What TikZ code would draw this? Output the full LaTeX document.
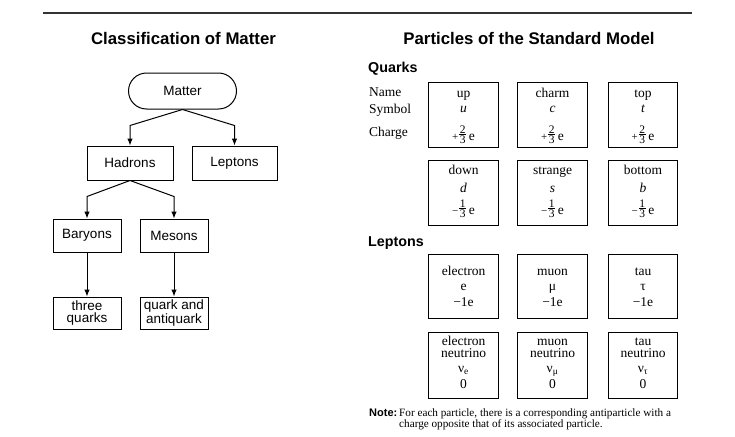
\documentclass[tikz,border=0pt]{standalone}
\usepackage{fontspec}
\setmainfont{Liberation Serif}
\setsansfont{Liberation Sans}
\usetikzlibrary{arrows.meta,calc}
\newcommand\myfr[3]{\mbox{\fontsize{11}{11}\selectfont#1}\kern1pt\raisebox{-3.2pt}{\fontsize{11.5}{11.5}\selectfont\vbox{\offinterlineskip\halign{\kern0.6pt\hfil##\hfil\kern0.6pt\cr#2\cr\noalign{\kern1pt\hrule height0.55pt\kern1.1pt}#3\cr}}}\kern2.5pt e}
\begin{document}
\begin{tikzpicture}[x=1pt,y=-1pt,
  tbox/.style={draw,line width=1pt,minimum width=68pt,minimum height=33pt,inner sep=1pt,
    font=\sffamily\fontsize{13.5}{12}\selectfont,align=center},
  pbox/.style={draw,line width=1.1pt,minimum width=69.5pt,inner sep=0pt,anchor=north},
  arr/.style={line width=1pt,-{Latex[length=7pt,width=5.5pt]}},
  lab/.style={anchor=base,inner sep=0pt,font=\fontsize{13.5}{14}\selectfont},
  lab2/.style={anchor=south,inner sep=0pt,align=center,font=\fontsize{13.5}{12}\selectfont},
  lablt/.style={anchor=base west,inner sep=0pt,font=\fontsize{13.5}{14}\selectfont},
  ttl/.style={anchor=base,inner sep=0pt,font=\sffamily\bfseries\fontsize{16.8}{18}\selectfont},
  sub/.style={anchor=base west,inner sep=0pt,font=\sffamily\bfseries\fontsize{14.3}{16}\selectfont}]
\useasboundingbox (0,0) rectangle (735,436);
\fill[white] (0,0) rectangle (735,436);
% top rule
\coordinate (rl) at (43,13);
\coordinate (rr) at (692,13);
\draw[line width=1.3pt,black!80] (rl) -- (rr);
% titles
\node[ttl] (t1) at (183.5,44.3) {Classification of Matter};
\node[ttl] (t2) at (529,45) {Particles of the Standard Model};
% tree
\node[tbox,minimum width=108pt,minimum height=36pt,rounded corners=18pt] (matter) at (182.5,91) {Matter};
\node[tbox,minimum width=86pt,minimum height=34pt] (hadrons) at (130,163) {Hadrons};
\node[tbox,minimum width=85pt,minimum height=34pt] (leptons) at (234.5,163) {Leptons};
\node[tbox] (baryons) at (87,235.5) {Baryons};
\node[tbox] (mesons) at (174,235.5) {Mesons};
\node[tbox,minimum height=32pt] (three) at (87,313) {three\\quarks};
\node[tbox,minimum height=32pt] (qaq) at (174,313) {quark and\\antiquark};
\draw[arr] (matter.south) -- ($(hadrons.north)+(0,-20)$) -- (hadrons.north);
\draw[arr] (matter.south) -- ($(leptons.north)+(0,-20)$) -- (leptons.north);
\draw[arr] (hadrons.south) -- ($(baryons.north)+(0,-22)$) -- (baryons.north);
\draw[arr] (hadrons.south) -- ($(mesons.north)+(0,-22)$) -- (mesons.north);
\draw[arr] (baryons.south) -- (three.north);
\draw[arr] (mesons.south) -- (qaq.north);
% quarks
\node[sub] (quarks) at (368,72.7) {Quarks};
\node[lablt] (lname) at (369,96.7) {Name};
\node[lablt] (lsym) at (369,113.3) {Symbol};
\node[lablt] (lchg) at (369,136) {Charge};
\node[pbox,minimum height=65pt] (up) at (463.5,82) {};
\node[pbox,minimum height=65pt] (charm) at (552.5,82) {};
\node[pbox,minimum height=65pt] (top) at (643,82) {};
\node[pbox,minimum height=65pt] (down) at (463.5,159.5) {};
\node[pbox,minimum height=65pt] (strange) at (552.5,159.5) {};
\node[pbox,minimum height=65pt] (bottom) at (643,159.5) {};
\node[lab] at (up.north |- 0,97) {up};
\node[lab] at (up.north |- 0,112.5) {\textit{u}};
\node[lab] at (up.north |- 0,140.5) {\myfr{+}{2}{3}};
\node[lab] at (charm.north |- 0,97) {charm};
\node[lab] at (charm.north |- 0,112.5) {\textit{c}};
\node[lab] at (charm.north |- 0,140.5) {\myfr{+}{2}{3}};
\node[lab] at (top.north |- 0,97) {top};
\node[lab] at (top.north |- 0,112.5) {\textit{t}};
\node[lab] at (top.north |- 0,140.5) {\myfr{+}{2}{3}};
\node[lab] at (down.north |- 0,174) {down};
\node[lab] at (down.north |- 0,192) {\textit{d}};
\node[lab] at (down.north |- 0,214.5) {\myfr{−}{1}{3}};
\node[lab] at (strange.north |- 0,174) {strange};
\node[lab] at (strange.north |- 0,192) {\textit{s}};
\node[lab] at (strange.north |- 0,214.5) {\myfr{−}{1}{3}};
\node[lab] at (bottom.north |- 0,174) {bottom};
\node[lab] at (bottom.north |- 0,192) {\textit{b}};
\node[lab] at (bottom.north |- 0,214.5) {\myfr{−}{1}{3}};
% leptons
\node[sub] (leps) at (368,246.7) {Leptons};
\node[pbox,minimum height=63.5pt] (el) at (463.5,254) {};
\node[pbox,minimum height=63.5pt] (mu) at (552.5,254) {};
\node[pbox,minimum height=63.5pt] (ta) at (643,254) {};
\node[pbox,minimum height=66pt] (nue) at (463.5,331.5) {};
\node[pbox,minimum height=66pt] (numu) at (552.5,331.5) {};
\node[pbox,minimum height=66pt] (nutau) at (643,331.5) {};
\node[lab] at (el.north |- 0,275.6) {electron};
\node[lab] at (el.north |- 0,290.7) {e};
\node[lab] at (el.north |- 0,306.7) {−1e};
\node[lab] at (mu.north |- 0,275.6) {muon};
\node[lab] at (mu.north |- 0,290.7) {μ};
\node[lab] at (mu.north |- 0,306.7) {−1e};
\node[lab] at (ta.north |- 0,275.6) {tau};
\node[lab] at (ta.north |- 0,290.7) {τ};
\node[lab] at (ta.north |- 0,306.7) {−1e};
\node[lab2] at (nue.north |- 0,357.7) {electron\\neutrino};
\node[lab] at (nue.north |- 0,372.7) {ν\textsubscript{e}};
\node[lab] at (nue.north |- 0,388) {0};
\node[lab2] at (numu.north |- 0,357.7) {muon\\neutrino};
\node[lab] at (numu.north |- 0,372.7) {ν\textsubscript{μ}};
\node[lab] at (numu.north |- 0,388) {0};
\node[lab2] at (nutau.north |- 0,357.7) {tau\\neutrino};
\node[lab] at (nutau.north |- 0,372.7) {ν\textsubscript{τ}};
\node[lab] at (nutau.north |- 0,388) {0};
% note
\node[anchor=base west,inner sep=0pt,font=\sffamily\bfseries\fontsize{11}{12}\selectfont] (note) at (369,416) {Note:};
\node[anchor=base west,inner sep=0pt,font=\fontsize{11.2}{12}\selectfont] (n1) at (399,416) {For each particle, there is a corresponding antiparticle with a};
\node[anchor=base west,inner sep=0pt,font=\fontsize{11.2}{12}\selectfont] (n2) at (399,427.5) {charge opposite that of its associated particle.};
\end{tikzpicture}
\end{document}
